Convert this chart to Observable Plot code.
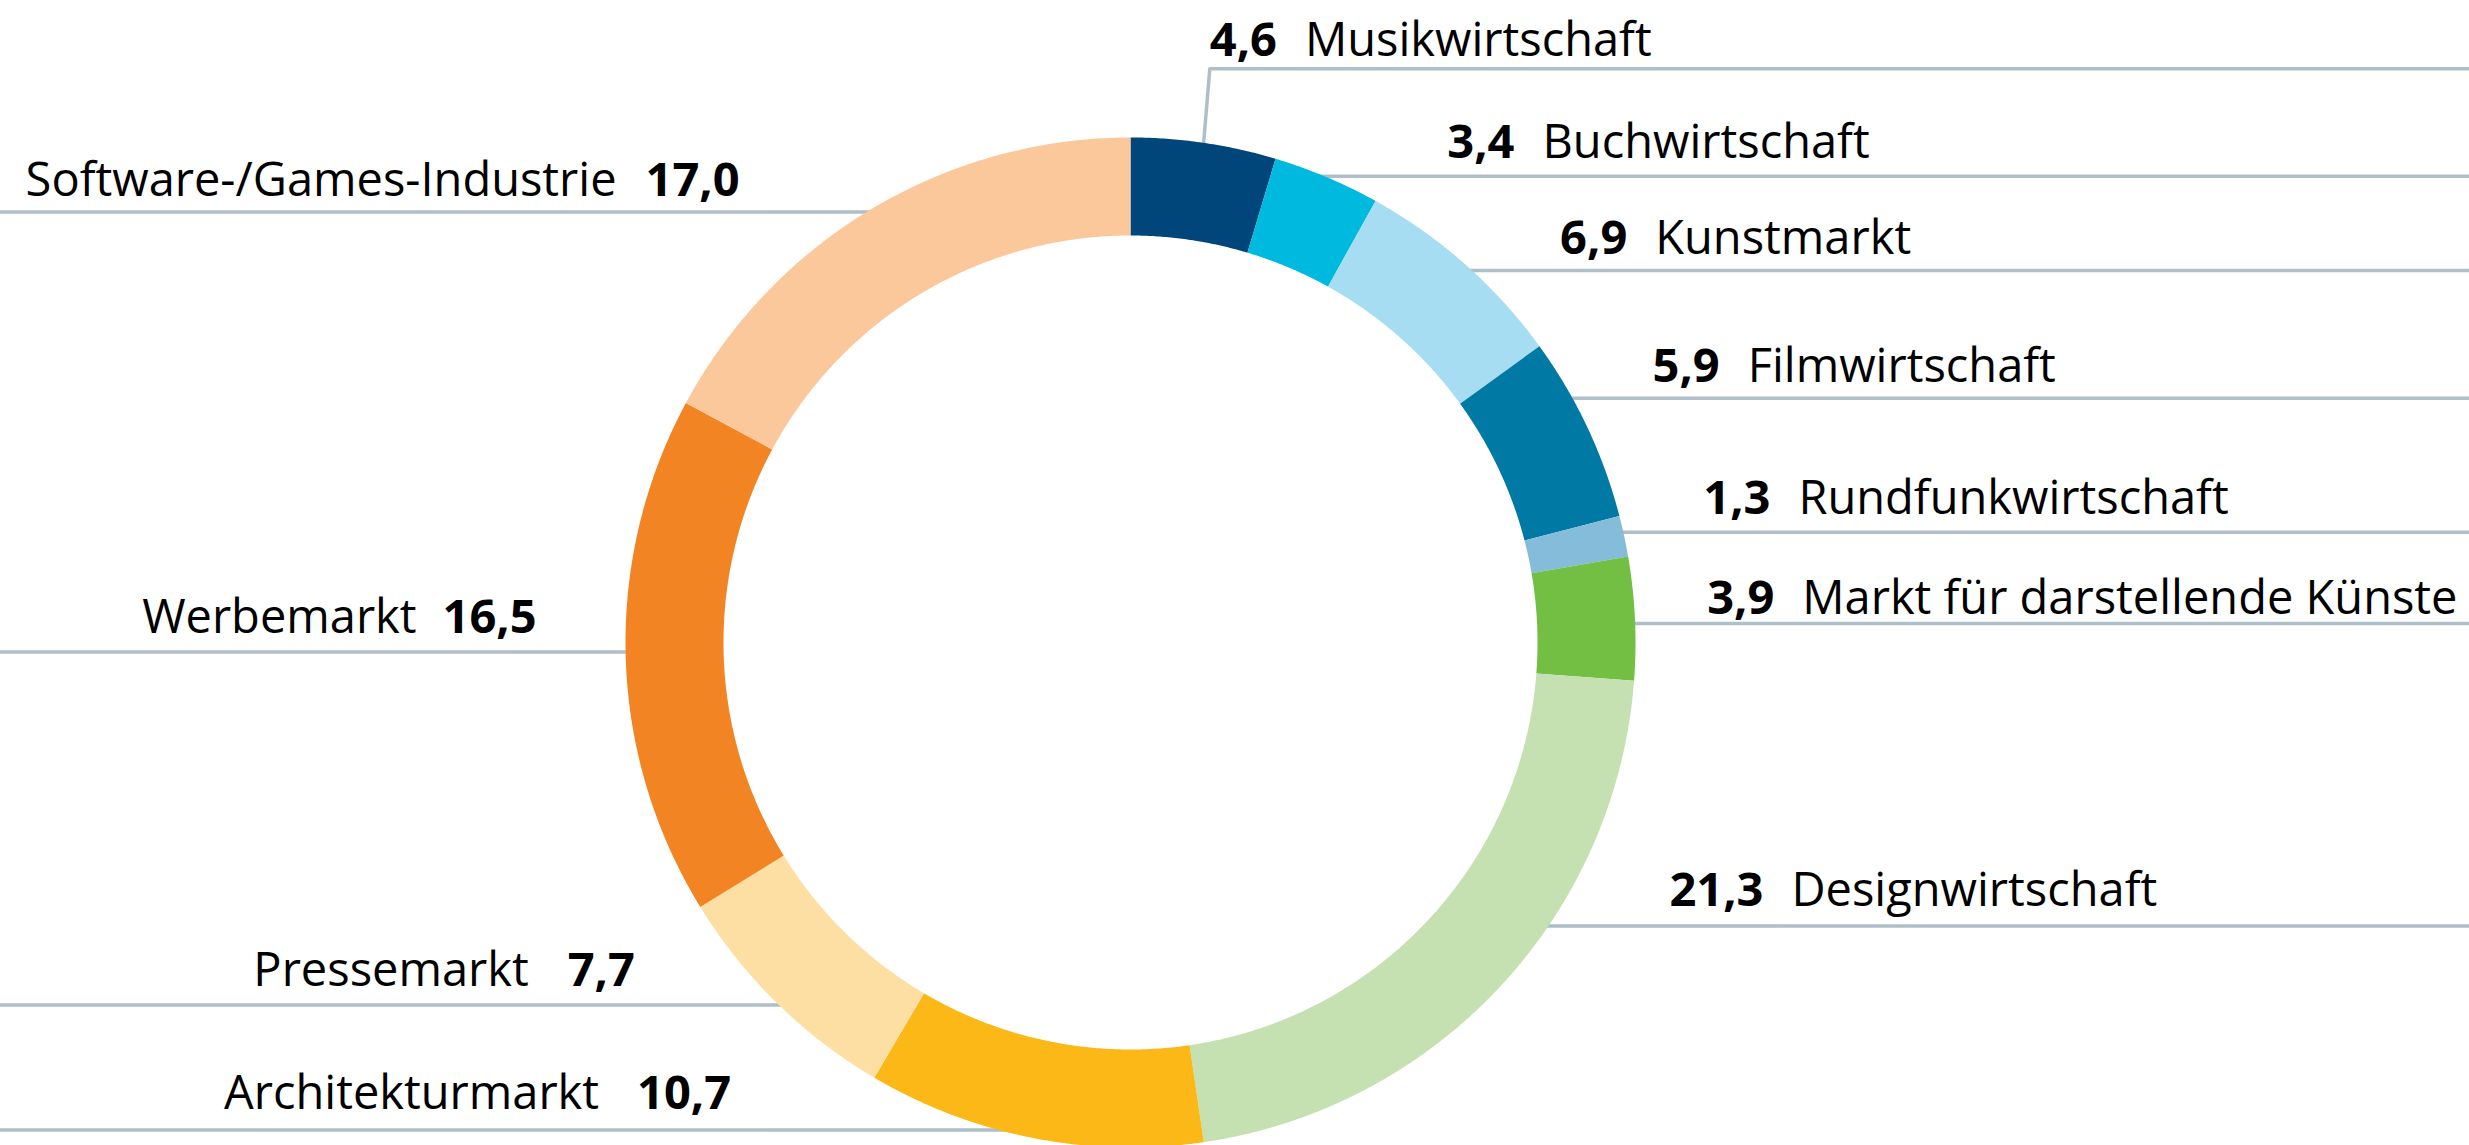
<!DOCTYPE html>
<html>
<head>
<meta charset="utf-8">
<script src="https://cdn.jsdelivr.net/npm/d3@7"></script>
<script src="https://cdn.jsdelivr.net/npm/@observablehq/plot@0.6"></script>
<style>
  html, body { margin: 0; padding: 0; background: #fff; overflow: hidden; }
  #chart svg { display: block; }
</style>
</head>
<body>
<div id="chart"></div>
<script>
// ---- data ----
const categories = ["Musikwirtschaft", "Buchwirtschaft", "Kunstmarkt", "Filmwirtschaft", "Rundfunkwirtschaft",
  "Markt für darstellende Künste", "Designwirtschaft", "Architekturmarkt", "Pressemarkt", "Werbemarkt",
  "Software-/Games-Industrie"];
const values = [4.6, 3.4, 6.9, 5.9, 1.3, 3.9, 21.3, 10.7, 7.7, 16.5, 17.0];
const valueLabels = ["4,6", "3,4", "6,9", "5,9", "1,3", "3,9", "21,3", "10,7", "7,7", "16,5", "17,0"];
const colors = ["#00467a", "#00b9df", "#a7ddf2", "#0079a4", "#85bcd9", "#72bf44", "#c5e0b1", "#fbb816", "#fedfa3", "#f28423", "#fbc89c"];

// ---- layout (label placement relative to slice geometry) ----
const labelLayout = [
  {side: "right", dy: -74, dx: 6, elbow: true, gap: 13},
  {side: "right", dy: -1, dx: 123, gap: 18},
  {side: "right", dy: 6, dx: 88, gap: 17},
  {side: "right", dy: -29, dx: 80, gap: 16},
  {side: "right", dy: -4, dx: 80, gap: 18},
  {side: "right", dy: 5, dx: 72, gap: 10},
  {side: "right", dy: -61, dx: 121, gap: 20},
  {side: "left", dy: -8, dx: -268, gap: 21, sep: 38},
  {side: "left", dy: 2, dx: -144, gap: 19, sep: 39},
  {side: "left", dy: -5, dx: -89, gap: 19, sep: 26},
  {side: "left", dy: 3, dx: -127, gap: 16, sep: 29}
];

const W = 2469, H = 1145;
const cx = 1130, cy = 642, R = 505, r = 407;
const fontFamily = "'Open Sans', 'Noto Sans', sans-serif";
const fontSize = 47;
const lineColor = "#aebfc9";

const ctx = document.createElement("canvas").getContext("2d");
function textWidth(t, bold) {
  ctx.font = `${bold ? "bold " : ""}${fontSize}px ${fontFamily}`;
  return ctx.measureText(t).width;
}

const table = categories.map((name, i) => ({name, value: values[i], label: valueLabels[i], color: colors[i]}));
const arcs = d3.pie().sort(null).value(d => d.value).startAngle(0).endAngle(2 * Math.PI)(table);

const px = (rad, a) => cx + rad * Math.sin(a);
const py = (rad, a) => cy - rad * Math.cos(a);

// ring polygons
const ringPts = [];
for (const a of arcs) {
  const n = Math.max(8, Math.ceil((a.endAngle - a.startAngle) * 180));
  for (let k = 0; k <= n; k++) {
    const t = a.startAngle + (a.endAngle - a.startAngle) * k / n;
    ringPts.push({name: a.data.name, x: px(R, t), y: py(R, t)});
  }
  for (let k = n; k >= 0; k--) {
    const t = a.startAngle + (a.endAngle - a.startAngle) * k / n;
    ringPts.push({name: a.data.name, x: px(r, t), y: py(r, t)});
  }
}

// leader lines & labels
const leaderPts = [];
const valueTexts = [];
const nameTexts = [];
arcs.forEach((a, i) => {
  const L = labelLayout[i];
  const mid = (a.startAngle + a.endAngle) / 2;
  const my = py(R, mid);
  const lineY = my + L.dy;
  const ty = lineY - L.gap;
  const vw = textWidth(a.data.label, true);
  if (L.elbow) {
    const ox = px(R - 3, mid), oy = py(R - 3, mid);
    const ex = px(R, mid) + L.dx;
    leaderPts.push({key: a.data.name, x: ox, y: oy});
    leaderPts.push({key: a.data.name, x: ex, y: lineY});
    leaderPts.push({key: a.data.name, x: W, y: lineY});
    valueTexts.push({x: ex, y: ty, text: a.data.label, anchor: "start"});
    nameTexts.push({x: ex + vw + 28, y: ty, text: a.data.name, anchor: "start"});
    return;
  }
  const d = lineY - cy;
  const inner = Math.sqrt(Math.max(0, (R - 3) ** 2 - d * d));
  const outer = Math.sqrt(Math.max(0, R * R - d * d));
  if (L.side === "right") {
    leaderPts.push({key: a.data.name, x: cx + inner, y: lineY});
    leaderPts.push({key: a.data.name, x: W, y: lineY});
    const vx = cx + outer + L.dx;
    valueTexts.push({x: vx, y: ty, text: a.data.label, anchor: "start"});
    nameTexts.push({x: vx + vw + 28, y: ty, text: a.data.name, anchor: "start"});
  } else {
    leaderPts.push({key: a.data.name, x: 0, y: lineY});
    leaderPts.push({key: a.data.name, x: cx - inner, y: lineY});
    const vx = cx - outer + L.dx;
    valueTexts.push({x: vx, y: ty, text: a.data.label, anchor: "end"});
    nameTexts.push({x: vx - vw - L.sep, y: ty, text: a.data.name, anchor: "end"});
  }
});

const textOpts = (bold, anchor) => ({
  x: "x", y: "y", text: "text",
  textAnchor: anchor, lineAnchor: "bottom",
  fontFamily, fontSize, fontWeight: bold ? "bold" : "normal", fill: "#000"
});

const chart = Plot.plot({
  width: W, height: H, margin: 0,
  x: {domain: [0, W], range: [0, W], axis: null},
  y: {domain: [0, H], range: [0, H], axis: null},
  color: {domain: categories, range: colors},
  style: {background: "#fff", fontFamily},
  marks: [
    Plot.line(leaderPts, {x: "x", y: "y", z: "key", stroke: lineColor, strokeWidth: 3.5}),
    Plot.line(ringPts, {x: "x", y: "y", z: "name", fill: "name", stroke: "none", curve: "linear-closed"}),
    Plot.text(valueTexts.filter(d => d.anchor === "start"), textOpts(true, "start")),
    Plot.text(valueTexts.filter(d => d.anchor === "end"), textOpts(true, "end")),
    Plot.text(nameTexts.filter(d => d.anchor === "start"), textOpts(false, "start")),
    Plot.text(nameTexts.filter(d => d.anchor === "end"), textOpts(false, "end"))
  ]
});
document.getElementById("chart").appendChild(chart);
</script>
</body>
</html>
